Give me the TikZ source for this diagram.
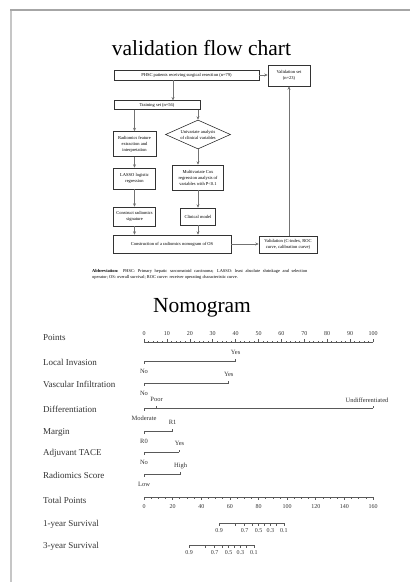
\documentclass[tikz,border=0pt]{standalone}
\usepackage{fontspec}
\setmainfont{Liberation Serif}
\usetikzlibrary{arrows.meta,shapes.geometric,calc}
\tikzset{
  fbox/.style     = {draw=black!80, line width=0.6pt, align=center, inner sep=0.5pt,
                     font=\fontsize{4.5}{6}\selectfont},
  fdiam/.style    = {fbox, diamond, shape aspect=2.24},
  farrow/.style   = {-{Stealth[length=3.4pt,width=3pt]}, black!55, line width=0.6pt},
  bigtitle/.style = {font=\fontsize{21.5}{24}\selectfont, anchor=base, inner sep=0pt},
  abbrev/.style   = {font=\fontsize{4.4}{6}\selectfont, align=justify, inner sep=0pt,
                     text width=215pt, anchor=north west},
  nomolab/.style  = {font=\fontsize{9}{10}\selectfont, text=black!80, anchor=west, inner sep=0pt},
  levtxt/.style   = {font=\fontsize{6.5}{7}\selectfont, text=black!80, inner sep=0pt},
  numtxt/.style   = {font=\fontsize{6}{7}\selectfont, text=black!80, inner sep=0pt},
  nomoline/.style = {black!65, line width=0.6pt},
}
% one variable of the nomogram: name, y, label, points at the far end
\newcommand{\nomorow}[4]{%
  \node[nomolab] (#1) at (43,{#2+1}) {#3};
  \draw[nomoline] (144,#2) -- ({144+2.29*#4},#2);
}
% level above / below the line: name, y, points, text
\newcommand{\levup}[4]{%
  \draw[nomoline] ({144+2.29*#3},#2) -- ++(0,-2.5);
  \node[levtxt] (#1) at ({144+2.29*#3},{#2-8.5}) {#4};
}
\newcommand{\levdown}[4]{%
  \draw[nomoline] ({144+2.29*#3},#2) -- ++(0,2.5);
  \node[levtxt] (#1) at ({144+2.29*#3},{#2+10}) {#4};
}
% survival axis: name, left x, y, label
\newcommand{\survaxis}[4]{%
  \node[nomolab] (#1) at (43,{#3+1}) {#4};
  \draw[nomoline] (#2,#3) -- ({#2+65},#3);
  \foreach \s in {0.9,0.8,0.7,0.6,0.5,0.4,0.3,0.2,0.1}
    \draw[nomoline] ({#2+21.07*(ln(-ln(\s))+2.2504)},#3) -- ++(0,2.5);
  \foreach \s in {0.9,0.7,0.5,0.3,0.1}
    \node[numtxt] (#1\s) at ({#2+21.07*(ln(-ln(\s))+2.2504)},{#3+8}) {\s};
}

\begin{document}
\begin{tikzpicture}[x=1pt, y=-1pt]
  \fill[white] (0,0) rectangle (410,582);
  \useasboundingbox (0,0) rectangle (410,582);
  \draw[gray!45, line width=1.2pt] (11,582) -- (11,10);
  \draw[gray!70, line width=1.2pt] (10.4,10) -- (410,10);

  % flow chart
  \node[bigtitle] (title) at (201.5,55) {validation flow chart};
  \node[fbox, minimum width=145pt, minimum height=10pt] (pat79) at (186.5,75)
    {PHSC patients receiving surgical resection (n=79)};
  \node[fbox, minimum width=42pt, minimum height=21pt] (valset) at (289,75.5)
    {Validation set\\(n=23)};
  \node[fbox, minimum width=86pt, minimum height=8.5pt] (train) at (157,105)
    {Training set (n=56)};
  \node[fbox, minimum width=43pt, minimum height=25pt] (radfeat) at (134.5,144)
    {Radiomics feature\\extraction and\\interpretation};
  \node[fdiam, minimum width=65pt, minimum height=29pt] (univar) at (198,134.5)
    {Univariate analysis\\of clinical variables};
  \node[fbox, minimum width=42pt, minimum height=21pt] (lasso) at (134.5,178.5)
    {LASSO logistic\\regression};
  \node[fbox, minimum width=51pt, minimum height=25pt] (multicox) at (198,177.5)
    {Multivariate Cox\\regression analysis of\\variables with P<0.1};
  \node[fbox, minimum width=42pt, minimum height=19pt] (radsig) at (134.5,216.5)
    {Construct radiomics\\signature};
  \node[fbox, minimum width=35pt, minimum height=17pt] (clinmod) at (198,216.5)
    {Clinical model};
  \node[fbox, minimum width=118pt, minimum height=18pt] (nomo) at (172,244)
    {Construction of a radiomics nomogram of OS};
  \node[fbox, minimum width=58pt, minimum height=17pt] (valid) at (288,244.5)
    {Validation (C-index, ROC\\curve, calibration curve)};

  \draw[farrow] (pat79.east) -- (pat79.east -| valset.west);
  \draw[farrow] ([xshift=16pt]train.north |- pat79.south) -- ([xshift=16pt]train.north);
  \draw[farrow] (radfeat.north |- train.south) -- (radfeat.north);
  \draw[farrow] (univar.north |- train.south) -- (univar.north);
  \draw[farrow] (radfeat.south) -- (lasso.north);
  \draw[farrow] (univar.south) -- (multicox.north);
  \draw[farrow] (lasso.south) -- (radsig.north);
  \draw[farrow] (multicox.south) -- (clinmod.north);
  \draw[farrow] (radsig.south) -- (radsig.south |- nomo.north);
  \draw[farrow] (clinmod.south) -- (clinmod.south |- nomo.north);
  \draw[farrow] (nomo.east) -- (nomo.east -| valid.west);
  \draw[farrow] (valset.south |- valid.north) -- (valset.south);

  \node[abbrev] (abbr) at (92,269.5)
    {\textbf{Abbreviation:} PHSC: Primary hepatic sarcomatoid carcinoma; LASSO: least absolute
     shrinkage and selection\linebreak operator; OS: overall survival; ROC curve: receiver
     operating characteristic curve.};

  % nomogram
  \node[bigtitle] (nomotitle) at (202,312) {Nomogram};

  \node[nomolab] (points) at (43,338) {Points};
  \draw[nomoline] (144,342) -- (373,342);
  \foreach \p in {0,2,...,100}
    \draw[nomoline] ({144+2.29*\p},342) -- ++(0,-1.5);
  \foreach \p in {0,10,...,100} {
    \draw[nomoline] ({144+2.29*\p},342) -- ++(0,-3);
    \node[numtxt] (pt\p) at ({144+2.29*\p},334) {\p};
  }

  \nomorow{locinv}{361}{Local Invasion}{40}
  \levup{locinvyes}{361}{40}{Yes}
  \levdown{locinvno}{361}{0}{No}

  \nomorow{vasinf}{383}{Vascular Infiltration}{37}
  \levup{vasinfyes}{383}{37}{Yes}
  \levdown{vasinfno}{383}{0}{No}

  \nomorow{diff}{408}{Differentiation}{100}
  \levup{diffpoor}{408}{5.5}{Poor}
  \draw[nomoline] (373,408) -- ++(0,-2.5);
  \node[levtxt] (diffundiff) at (367,400) {Undifferentiated};
  \levdown{diffmod}{408}{0}{Moderate}

  \nomorow{margin}{431}{Margin}{12.5}
  \levup{marginrone}{431}{12.5}{R1}
  \levdown{marginrzero}{431}{0}{R0}

  \nomorow{tace}{452}{Adjuvant TACE}{15.5}
  \levup{taceyes}{452}{15.5}{Yes}
  \levdown{taceno}{452}{0}{No}

  \nomorow{radscore}{474}{Radiomics Score}{16}
  \levup{radscorehigh}{474}{16}{High}
  \levdown{radscorelow}{474}{0}{Low}

  \node[nomolab] (total) at (43,500.5) {Total Points};
  \draw[nomoline] (144,497) -- (373,497);
  \foreach \t in {0,5,...,160}
    \draw[nomoline] ({144+1.43125*\t},497) -- ++(0,1.5);
  \foreach \t in {0,20,...,160} {
    \draw[nomoline] ({144+1.43125*\t},497) -- ++(0,3);
    \node[numtxt] (tp\t) at ({144+1.43125*\t},507) {\t};
  }

  \survaxis{surva}{219}{523}{1-year Survival}
  \survaxis{survb}{189}{545}{3-year Survival}
\end{tikzpicture}
\end{document}
